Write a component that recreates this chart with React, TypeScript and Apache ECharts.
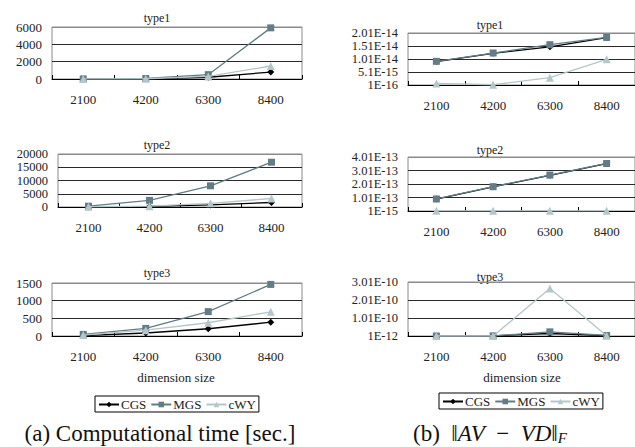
import React, { useEffect, useRef } from "react";
import * as echarts from "echarts";

const categories = ["2100", "4200", "6300", "8400"];
const seriesNames = ["CGS", "MGS", "cWY"];

// (a) Computational time [sec.]
const timeType1CGS = [5, 20, 200, 800];
const timeType1MGS = [10, 60, 500, 5900];
const timeType1cWY = [5, 30, 300, 1500];
const timeType2CGS = [50, 200, 800, 1700];
const timeType2MGS = [300, 2500, 8000, 16900];
const timeType2cWY = [100, 300, 1400, 3200];
const timeType3CGS = [10, 85, 205, 390];
const timeType3MGS = [45, 215, 690, 1460];
const timeType3cWY = [25, 165, 375, 685];

// (b) ||AV - VD||_F
const errType1CGS = [9.1e-15, 1.23e-14, 1.48e-14, 1.83e-14];
const errType1MGS = [9.2e-15, 1.24e-14, 1.56e-14, 1.84e-14];
const errType1cWY = [7e-16, 2e-16, 2.9e-15, 1.0e-14];
const errType2CGS = [8.9e-14, 1.8e-13, 2.65e-13, 3.52e-13];
const errType2MGS = [9e-14, 1.81e-13, 2.67e-13, 3.53e-13];
const errType2cWY = [2e-15, 2e-15, 2e-15, 2e-15];
const errType3CGS = [1e-12, 2e-12, 1.5e-11, 3e-12];
const errType3MGS = [1e-12, 1.5e-12, 2.4e-11, 4e-12];
const errType3cWY = [1e-12, 1e-12, 2.65e-10, 2e-12];

const panelTitles = ["type1", "type2", "type3", "type1", "type2", "type3"];
const yMins = [0, 0, 0, 1e-16, 1e-15, 1e-12];
const yMaxs = [6000, 20000, 1500, 2.01e-14, 4.01e-13, 3.01e-10];
const yIntervals = [2000, 5000, 500, 5e-15, 1e-13, 1e-10];

const FONT = "'Liberation Serif', 'DejaVu Serif', serif";
const COLORS = ["#000000", "#637c85", "#b5c6ca"];
const SYMBOLS = ["diamond", "rect", "triangle"];

const fmtE = (v: number) => {
  const [m, e] = Number(v).toExponential(2).split("e");
  const mant = parseFloat(m).toString();
  const ex = parseInt(e, 10);
  return `${mant}E${ex < 0 ? "-" : ""}${Math.abs(ex)}`;
};

export default function App() {
  const ref = useRef<HTMLDivElement>(null);
  useEffect(() => {
    if (!ref.current) return;
    const chart = echarts.init(ref.current, null, { renderer: "svg" });

    const grids = [
      { left: 52, top: 27, width: 250, height: 52 },
      { left: 58, top: 154, width: 244, height: 53 },
      { left: 52, top: 283, width: 250, height: 53 },
      { left: 408, top: 33, width: 227, height: 52 },
      { left: 408, top: 157, width: 227, height: 54 },
      { left: 408, top: 282, width: 227, height: 54 },
    ].map((g) => ({ ...g, show: true, borderColor: "#8a8a8a", borderWidth: 1, containLabel: false }));

    const data = [
      [timeType1CGS, timeType1MGS, timeType1cWY],
      [timeType2CGS, timeType2MGS, timeType2cWY],
      [timeType3CGS, timeType3MGS, timeType3cWY],
      [errType1CGS, errType1MGS, errType1cWY],
      [errType2CGS, errType2MGS, errType2cWY],
      [errType3CGS, errType3MGS, errType3cWY],
    ];

    const xAxes = grids.map((_, i) => ({
      type: "category",
      gridIndex: i,
      data: categories,
      boundaryGap: true,
      axisLine: { lineStyle: { color: "#000", width: 1 } },
      axisTick: { show: true, inside: true, length: 4, interval: 0, lineStyle: { color: "#000" } },
      axisLabel: { fontFamily: FONT, fontSize: 13, color: "#222", margin: 14, interval: 0 },
      splitLine: { show: false },
    }));

    const yAxes = grids.map((_, i) => {
      const nTicks = Math.round((yMaxs[i] - yMins[i]) / yIntervals[i]) + 1;
      const colors = Array.from({ length: nTicks }, (_, k) => (k === nTicks - 1 ? "#8a8a8a" : "#2a2a2a"));
      const tight = i >= 1 && i !== 2;
      return {
        type: "value",
        gridIndex: i,
        min: yMins[i],
        max: yMaxs[i],
        interval: yIntervals[i],
        axisLine: { show: false },
        axisTick: { show: false },
        axisLabel: {
          fontFamily: FONT,
          fontSize: tight ? 12.5 : 13,
          lineHeight: 11,
          color: "#222",
          margin: 10,
          formatter: i >= 3 ? (v: number) => fmtE(v) : (v: number) => String(Math.round(v)),
        },
        splitLine: { show: true, lineStyle: { color: colors, width: 1 } },
      };
    });

    const series: any[] = [];
    data.forEach((panel, gi) => {
      panel.forEach((vals, si) => {
        series.push({
          type: "line",
          name: seriesNames[si],
          xAxisIndex: gi,
          yAxisIndex: gi,
          data: vals,
          symbol: SYMBOLS[si],
          symbolSize: si === 2 ? 8 : 7,
          showAllSymbol: true,
          lineStyle: { color: COLORS[si], width: 1.3 },
          itemStyle: { color: COLORS[si] },
          z: 2 + si,
        });
      });
    });

    const legendBase = {
      data: seriesNames,
      orient: "horizontal",
      padding: [2, 3, 1, 3],
      itemGap: 4,
      itemWidth: 20,
      itemHeight: 7,
      borderColor: "#000",
      borderWidth: 1,
      borderRadius: 0,
      selectedMode: false,
      textStyle: { fontFamily: FONT, fontSize: 13, color: "#222", padding: [0, 0, 0, -3] },
    };

    const titleCenters = [
      [157, 18], [157, 145], [157, 273], [490, 25], [490, 150], [490, 277],
    ];

    const graphic: any[] = panelTitles.map((t, i) => ({
      type: "text",
      x: titleCenters[i][0],
      y: titleCenters[i][1],
      style: { text: t, fontFamily: FONT, fontSize: 12, fill: "#222", align: "center", verticalAlign: "middle" },
    }));
    graphic.push(
      { type: "text", x: 176, y: 377, style: { text: "dimension size", fontFamily: FONT, fontSize: 13, fill: "#222", align: "center", verticalAlign: "middle" } },
      { type: "text", x: 522, y: 377, style: { text: "dimension size", fontFamily: FONT, fontSize: 13, fill: "#222", align: "center", verticalAlign: "middle" } },
      { type: "text", x: 160, y: 433, style: { text: "(a) Computational time [sec.]", fontFamily: FONT, fontSize: 23, fill: "#111", align: "center", verticalAlign: "middle" } },
      {
        type: "text",
        x: 490,
        y: 433,
        style: {
          text: "(b)  ‖{i|AV}  −  {i|VD}‖{s|F}",
          fontFamily: FONT,
          fontSize: 23,
          fill: "#111",
          align: "center",
          verticalAlign: "middle",
          rich: {
            i: { fontFamily: FONT, fontSize: 23, fontStyle: "italic", fill: "#111" },
            s: { fontFamily: FONT, fontSize: 15, fontStyle: "italic", fill: "#111", padding: [10, 0, 0, 0] },
          },
        },
      }
    );

    chart.setOption({
      animation: false,
      backgroundColor: "#ffffff",
      grid: grids,
      xAxis: xAxes,
      yAxis: yAxes,
      series,
      legend: [
        { ...legendBase, left: 95, top: 396 },
        { ...legendBase, left: 439, top: 393 },
      ],
      graphic,
    });
    return () => chart.dispose();
  }, []);
  return <div ref={ref} style={{ position: "fixed", left: 0, top: 0, width: 635, height: 447 }} />;
}
